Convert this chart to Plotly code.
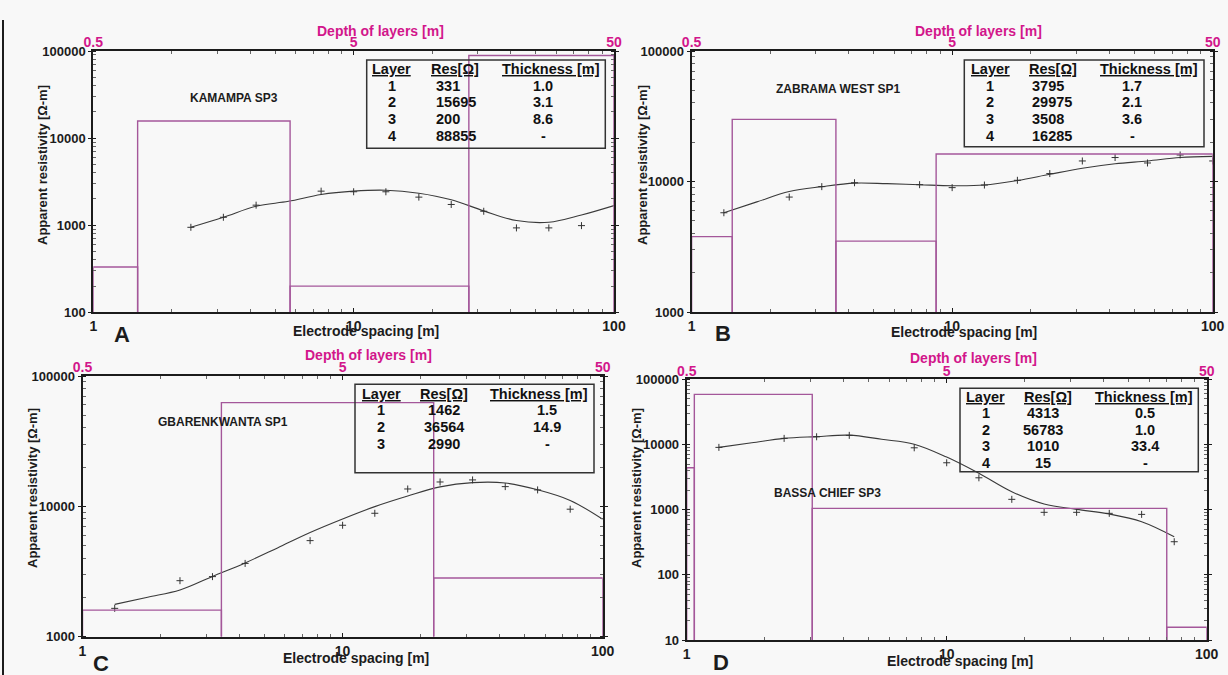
import math
import plotly.graph_objects as go

# ---------------- DATA ----------------
# Panel A - KAMAMPA SP3
spacing_A = [2.37, 3.16, 4.22, 7.5, 10, 13.3, 17.8, 23.7, 31.6, 42.2, 56.2, 75]
obs_A = [946, 1233, 1698, 2460, 2421, 2420, 2100, 1730, 1446, 931, 931, 989]
curve_x_A = [2.37, 3.16, 4.22, 5.62, 7.5, 10, 13.3, 17.8, 23.7, 31.6, 42.2, 56.2, 75, 100]
curve_A = [946, 1233, 1650, 1880, 2250, 2460, 2520, 2330, 1960, 1460, 1130, 1080, 1310, 1680]
layer_depth_A = [0.5, 0.74, 2.85, 13.85, 50]
layer_res_A = [331, 15695, 200, 88855]
tab_layer_A = ["1", "2", "3", "4"]
tab_res_A = ["331", "15695", "200", "88855"]
tab_thick_A = ["1.0", "3.1", "8.6", "-"]

# Panel B - ZABRAMA WEST SP1
spacing_B = [1.33, 2.37, 3.16, 4.22, 7.5, 10, 13.3, 17.8, 23.7, 31.6, 42.2, 56.2, 75, 100]
obs_B = [5780, 7620, 9160, 9810, 9480, 9000, 9420, 10240, 11530, 14400, 15300, 13900, 16000, 14400]
curve_x_B = [1.33, 1.78, 2.37, 3.16, 4.22, 5.62, 7.5, 10, 13.3, 17.8, 23.7, 31.6, 42.2, 56.2, 75, 100]
curve_B = [5780, 7000, 8400, 9160, 9750, 9650, 9480, 9310, 9420, 10200, 11380, 12650, 13700, 14400, 15300, 15600]
layer_depth_B = [0.5, 0.716, 1.79, 4.34, 50]
layer_res_B = [3795, 29975, 3508, 16285]
tab_layer_B = ["1", "2", "3", "4"]
tab_res_B = ["3795", "29975", "3508", "16285"]
tab_thick_B = ["1.7", "2.1", "3.6", "-"]

# Panel C - GBARENKWANTA SP1
spacing_C = [1.33, 2.37, 3.16, 4.22, 7.5, 10, 13.3, 17.8, 23.7, 31.6, 42.2, 56.2, 75]
obs_C = [1650, 2690, 2890, 3650, 5460, 7160, 8850, 13590, 15380, 15950, 14170, 13370, 9510]
curve_x_C = [1.33, 1.78, 2.37, 3.16, 4.22, 5.62, 7.5, 10, 13.3, 17.8, 23.7, 31.6, 42.2, 56.2, 75, 100]
curve_C = [1770, 2010, 2280, 2900, 3680, 4800, 6300, 8000, 9950, 12000, 14100, 15200, 15100, 13400, 11100, 7960]
layer_depth_C = [0.5, 1.71, 11.2, 50]
layer_res_C = [1600, 62500, 2820]
tab_layer_C = ["1", "2", "3"]
tab_res_C = ["1462", "36564", "2990"]
tab_thick_C = ["1.5", "14.9", "-"]

# Panel D - BASSA CHIEF SP3
spacing_D = [1.33, 2.37, 3.16, 4.22, 7.5, 10, 13.3, 17.8, 23.7, 31.6, 42.2, 56.2, 75]
obs_D = [9020, 12400, 13130, 13800, 8890, 5240, 3080, 1440, 910, 910, 878, 846, 322]
curve_x_D = [1.33, 1.78, 2.37, 3.16, 4.22, 5.62, 7.5, 10, 13.3, 17.8, 23.7, 31.6, 42.2, 56.2, 75]
curve_D = [9020, 10600, 12400, 13200, 13900, 12000, 10100, 6400, 3610, 1880, 1220, 1010, 857, 653, 384]
layer_depth_D = [0.5, 0.535, 1.52, 35.1, 50]
layer_res_D = [4400, 58700, 1047, 15.7]
tab_layer_D = ["1", "2", "3", "4"]
tab_res_D = ["4313", "56783", "1010", "15"]
tab_thick_D = ["0.5", "1.0", "33.4", "-"]

x_ticks = [1, 10, 100]
x_ticktext = ["1", "10", "100"]
depth_ticks = [0.5, 5, 50]
depth_ticktext = ["0.5", "5", "50"]

# ---------------- STYLE / LAYOUT ----------------
W, H = 1228, 675
def px(x): return x / W
def py(y): return 1 - y / H

PURPLE = "#a4579a"
MAGENTA = "#d2168b"
INK = "#1c1c1c"
FONT = "Liberation Sans, Arial, sans-serif"
BG = "#f8f8f8"

panels = [
    dict(letter="A", station="KAMAMPA SP3",
         sx=spacing_A, obs=obs_A, cx=curve_x_A, cy=curve_A,
         ld=layer_depth_A, lr=layer_res_A,
         tl=tab_layer_A, tr=tab_res_A, tt=tab_thick_A,
         yexp=[2, 3, 4, 5],
         box=(93.3, 614.0, 51.0, 312.3),
         table=(366.7, 605.3, 60.0, 148.3), hdr_y=69.3, rows_y=[85.7, 102.3, 119.3, 135.7],
         col=(392.0, 428.7, 434.3, "left", 550.7, 543.0),
         st_pos=(234, 97.7), let_pos=(122, 335), xt_pos=(366, 331), yt_pos=(42, 165), dt_pos=(380, 31.5)),
    dict(letter="B", station="ZABRAMA WEST SP1",
         sx=spacing_B, obs=obs_B, cx=curve_x_B, cy=curve_B,
         ld=layer_depth_B, lr=layer_res_B,
         tl=tab_layer_B, tr=tab_res_B, tt=tab_thick_B,
         yexp=[3, 4, 5],
         box=(691.6, 1212.7, 51.0, 312.3),
         table=(964.3, 1204.0, 60.0, 146.7), hdr_y=69.3, rows_y=[85.7, 102.3, 119.3, 135.7],
         col=(990.3, 1026.7, 1030.0, "left", 1148.8, 1132.0),
         st_pos=(838, 89.3), let_pos=(723, 333), xt_pos=(964, 332), yt_pos=(642, 165), dt_pos=(978, 31)),
    dict(letter="C", station="GBARENKWANTA SP1",
         sx=spacing_C, obs=obs_C, cx=curve_x_C, cy=curve_C,
         ld=layer_depth_C, lr=layer_res_C,
         tl=tab_layer_C, tr=tab_res_C, tt=tab_thick_C,
         yexp=[3, 4, 5],
         box=(82.5, 602.7, 376.0, 636.7),
         table=(355.0, 594.0, 384.3, 472.7), hdr_y=394.0, rows_y=[410.0, 427.3, 443.7],
         col=(381.0, 417.7, 444.0, "center", 539.2, 547.0),
         st_pos=(223, 421.7), let_pos=(101, 663), xt_pos=(356, 658), yt_pos=(33, 488), dt_pos=(368, 355)),
    dict(letter="D", station="BASSA CHIEF SP3",
         sx=spacing_D, obs=obs_D, cx=curve_x_D, cy=curve_D,
         ld=layer_depth_D, lr=layer_res_D,
         tl=tab_layer_D, tr=tab_res_D, tt=tab_thick_D,
         yexp=[1, 2, 3, 4, 5],
         box=(686.7, 1206.7, 379.3, 640.0),
         table=(960.0, 1198.3, 388.3, 471.7), hdr_y=397.3, rows_y=[413.3, 430.0, 446.3, 462.7],
         col=(985.7, 1021.7, 1043.3, "center", 1144.2, 1145.0),
         st_pos=(827, 493.3), let_pos=(721, 662), xt_pos=(960, 661), yt_pos=(637, 488), dt_pos=(973, 358)),
]

fig = go.Figure()
layout = dict(
    width=W, height=H, margin=dict(l=0, r=0, t=0, b=0, autoexpand=False),
    paper_bgcolor=BG, plot_bgcolor=BG, showlegend=False,
    font=dict(family=FONT, color=INK),
)
annotations = []
shapes = []

for i, p in enumerate(panels):
    xb = f"x{2*i+1}" if i > 0 else "x"
    xt = f"x{2*i+2}"
    yy = f"y{i+1}" if i > 0 else "y"
    xb_key = "xaxis" if i == 0 else f"xaxis{2*i+1}"
    xt_key = f"xaxis{2*i+2}"
    y_key = "yaxis" if i == 0 else f"yaxis{i+1}"
    x0, x1, y0, y1 = p["box"]
    ymin = 10 ** p["yexp"][0]

    # layer model boxes (plotted against the depth axis)
    for j, r in enumerate(p["lr"]):
        d0, d1 = p["ld"][j], p["ld"][j + 1]
        fig.add_trace(go.Scatter(
            x=[d0, d0, d1, d1], y=[ymin, r, r, ymin], mode="lines",
            line=dict(color=PURPLE, width=1.4), xaxis=xt, yaxis=yy, hoverinfo="skip"))
    # model curve
    fig.add_trace(go.Scatter(
        x=p["cx"], y=p["cy"], mode="lines", line=dict(color="#3a3a3a", width=1.1, shape="spline"),
        xaxis=xb, yaxis=yy, hoverinfo="skip"))
    # observed data
    fig.add_trace(go.Scatter(
        x=p["sx"], y=p["obs"], mode="markers",
        marker=dict(symbol="cross-thin", size=5, line=dict(color="#333", width=1.0), color="#333"),
        xaxis=xb, yaxis=yy, hoverinfo="skip"))

    layout[xb_key] = dict(
        type="log", range=[0, 2], domain=[px(x0), px(x1)], anchor=yy, automargin=False,
        tickvals=x_ticks, ticktext=x_ticktext, ticks="inside", ticklen=4, tickcolor=INK,
        showline=True, linecolor=INK, linewidth=2, mirror="allticks",
        showgrid=False, zeroline=False,
        tickfont=dict(family=FONT, size=14, color=INK, weight="bold"),
        minor=dict(ticks="inside", ticklen=3, dtick="D1", tickcolor="#666", showgrid=False),
    )
    layout[xt_key] = dict(
        type="log", range=[math.log10(0.5), math.log10(50)], overlaying=xb, side="top", anchor=yy,
        automargin=False,
        tickvals=depth_ticks, ticktext=depth_ticktext, ticks="", showline=False,
        showgrid=False, zeroline=False,
        tickfont=dict(family=FONT, size=14, color=MAGENTA, weight="bold"),
    )
    ylo = p["yexp"][0]
    layout[y_key] = dict(
        type="log", range=[ylo, 5], domain=[py(y1), py(y0)], anchor=xb, automargin=False,
        tickvals=[10 ** e for e in p["yexp"]], ticktext=[str(10 ** e) for e in p["yexp"]],
        ticks="outside", ticklen=3, tickcolor=INK,
        showline=True, linecolor=INK, linewidth=2, mirror="allticks",
        showgrid=False, zeroline=False,
        tickfont=dict(family=FONT, size=13, color=INK, weight="bold"),
        minor=dict(ticks="inside", ticklen=3, dtick="D1", tickcolor="#666", showgrid=False),
    )

    # table box
    tx0, tx1, ty0, ty1 = p["table"]
    shapes.append(dict(type="rect", xref="paper", yref="paper", x0=px(tx0), x1=px(tx1),
                       y0=py(ty1), y1=py(ty0), line=dict(color="#333", width=1.5)))
    c_layer, c_reshdr, c_res, res_anchor, c_thhdr, c_th = p["col"]
    tf = dict(family=FONT, size=14.5, color="#111", weight="bold")
    n0 = len(annotations)
    annotations.append(dict(x=px(c_layer), y=py(p["hdr_y"]), text="<u>Layer</u>", xanchor="center"))
    annotations.append(dict(x=px(c_reshdr), y=py(p["hdr_y"]), text="<u>Res[Ω]</u>", xanchor="left"))
    annotations.append(dict(x=px(c_thhdr), y=py(p["hdr_y"]), text="<u>Thickness [m]</u>", xanchor="center"))
    for k, ry in enumerate(p["rows_y"]):
        annotations.append(dict(x=px(c_layer), y=py(ry), text=p["tl"][k], xanchor="center"))
        annotations.append(dict(x=px(c_res), y=py(ry), text=p["tr"][k], xanchor=res_anchor))
        annotations.append(dict(x=px(c_th), y=py(ry), text=p["tt"][k], xanchor="center"))
    for a in annotations[n0:]:
        a.update(xref="paper", yref="paper", yanchor="middle", showarrow=False, font=tf)

    # station name
    annotations.append(dict(x=px(p["st_pos"][0]), y=py(p["st_pos"][1]), text=p["station"],
                            xref="paper", yref="paper", showarrow=False, xanchor="center", yanchor="middle",
                            font=dict(family=FONT, size=12, color=INK, weight="bold")))
    # panel letter
    annotations.append(dict(x=px(p["let_pos"][0]), y=py(p["let_pos"][1]), text=p["letter"],
                            xref="paper", yref="paper", showarrow=False, xanchor="center", yanchor="middle",
                            font=dict(family=FONT, size=22, color=INK, weight="bold")))
    # axis titles
    annotations.append(dict(x=px(p["xt_pos"][0]), y=py(p["xt_pos"][1]), text="Electrode spacing [m]",
                            xref="paper", yref="paper", showarrow=False, xanchor="center", yanchor="middle",
                            font=dict(family=FONT, size=14, color=INK, weight="bold")))
    annotations.append(dict(x=px(p["yt_pos"][0]), y=py(p["yt_pos"][1]), text="Apparent resistivity [Ω-m]",
                            xref="paper", yref="paper", showarrow=False, xanchor="center", yanchor="middle",
                            textangle=-90, font=dict(family=FONT, size=13, color=INK, weight="bold")))
    annotations.append(dict(x=px(p["dt_pos"][0]), y=py(p["dt_pos"][1]), text="Depth of layers [m]",
                            xref="paper", yref="paper", showarrow=False, xanchor="center", yanchor="middle",
                            font=dict(family=FONT, size=14, color=MAGENTA, weight="bold")))

# outer frame line on the left
shapes.append(dict(type="line", xref="paper", yref="paper", x0=px(3), x1=px(3), y0=0, y1=py(20),
                   line=dict(color=INK, width=2)))

layout["annotations"] = annotations
layout["shapes"] = shapes
fig.update_layout(**layout)
fig.write_html("out.html", config={"displayModeBar": False},
               post_script="document.body.style.margin='0';document.body.style.overflow='hidden';")
